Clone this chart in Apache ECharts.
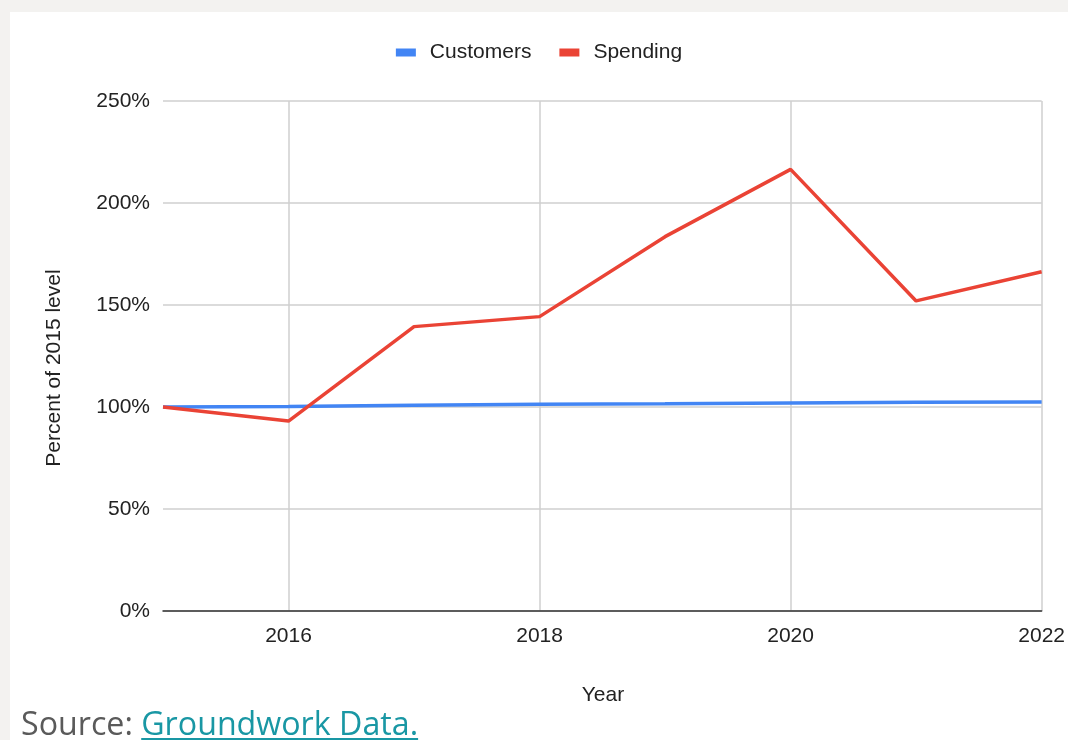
<!DOCTYPE html>
<html>
<head>
<meta charset="utf-8">
<script src="https://cdn.jsdelivr.net/npm/echarts@6/dist/echarts.min.js"></script>
<style>
  html, body { margin: 0; padding: 0; background: #f3f2f0; width: 1068px; height: 740px; overflow: hidden; }
  #panel { position: absolute; left: 10px; top: 12px; width: 1058px; height: 728px; background: #ffffff; }
  #chart { position: absolute; left: 0; top: 0; width: 1058px; height: 690px; }
  #source { position: absolute; left: 11px; top: 695px; font-family: "Open Sans", Lato, sans-serif; font-size: 32.2px; line-height: 32px; color: #5a5a5a; white-space: nowrap; }
  #source a { color: #1997a4; text-decoration: underline; text-decoration-thickness: 2px; text-underline-offset: 3px; }
</style>
</head>
<body>
<div id="panel">
  <div id="chart"></div>
  <div id="source">Source: <a>Groundwork Data.</a></div>
</div>
<script>
// Yearly index, 2015 = 100%
const years = ['2015', '2016', '2017', '2018', '2019', '2020', '2021', '2022'];
const customers = [100, 100.3, 100.8, 101.3, 101.6, 102.0, 102.3, 102.5];
const spending = [100, 93.1, 139.4, 144.3, 183.5, 216.5, 152.0, 166.3];
const yTicks = [0, 50, 100, 150, 200, 250];

const chart = echarts.init(document.getElementById('chart'), null, { renderer: 'canvas', width: 1058, height: 690 });
const font = '"Liberation Sans", Arial, sans-serif';

chart.setOption({
  animation: false,
  textStyle: { fontFamily: font },
  legend: {
    top: 25,
    left: 'center',
    itemWidth: 20,
    itemHeight: 8,
    itemGap: 28,
    icon: 'rect',
    textStyle: { fontSize: 21, color: '#222', fontFamily: font, padding: [0, 0, 0, 9] },
    data: ['Customers', 'Spending']
  },
  grid: { left: 153, width: 882, top: 89, height: 510, containLabel: false },
  xAxis: {
    type: 'category',
    data: years,
    boundaryGap: false,
    axisLine: { show: true, lineStyle: { color: '#333', width: 1.5 } },
    axisTick: { show: false },
    axisLabel: {
      interval: (i) => i % 2 === 1,
      fontSize: 21,
      color: '#222',
      margin: 15,
      fontFamily: font
    },
    splitLine: {
      show: true,
      interval: (i) => i % 2 === 1,
      lineStyle: { color: '#cfcfcf', width: 1.5 }
    }
  },
  yAxis: {
    type: 'value',
    min: yTicks[0],
    max: yTicks[yTicks.length - 1],
    interval: 50,
    axisLine: { show: false },
    axisTick: { show: false },
    axisLabel: {
      formatter: (v) => v + '%',
      fontSize: 21,
      color: '#222',
      margin: 13,
      fontFamily: font
    },
    splitLine: { lineStyle: { color: '#cfcfcf', width: 1.5 } }
  },
  graphic: [
    {
      type: 'text',
      x: 44,
      y: 356,
      rotation: Math.PI / 2,
      style: {
        text: 'Percent of 2015 level',
        fontSize: 21,
        fontFamily: font,
        fill: '#222',
        align: 'center',
        verticalAlign: 'middle'
      }
    },
    {
      type: 'text',
      x: 593,
      y: 683,
      style: {
        text: 'Year',
        fontSize: 21,
        fontFamily: font,
        fill: '#222',
        align: 'center',
        verticalAlign: 'middle'
      }
    }
  ],
  series: [
    {
      name: 'Customers',
      type: 'line',
      data: customers,
      showSymbol: false,
      symbol: 'none',
      itemStyle: { color: '#4285f4' },
      lineStyle: { color: '#4285f4', width: 3.5 }
    },
    {
      name: 'Spending',
      type: 'line',
      data: spending,
      showSymbol: false,
      symbol: 'none',
      itemStyle: { color: '#ea4335' },
      lineStyle: { color: '#ea4335', width: 3.5 }
    }
  ]
});
</script>
</body>
</html>
